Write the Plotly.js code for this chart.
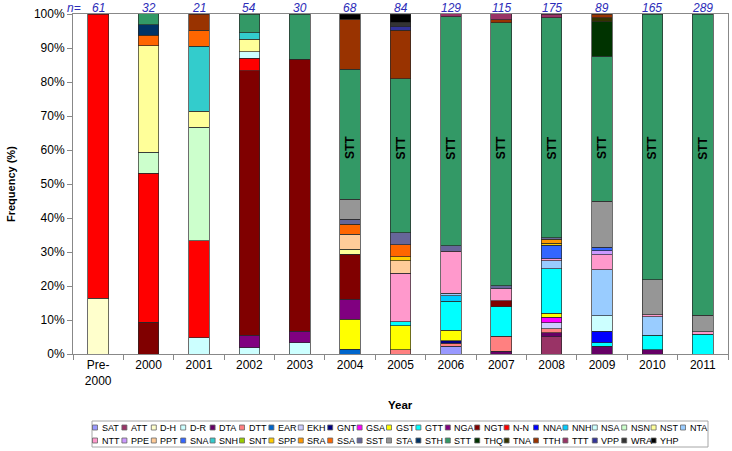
<!DOCTYPE html>
<html><head><meta charset="utf-8">
<script src="https://cdn.plot.ly/plotly-3.0.1.min.js"></script>
<style>html,body{margin:0;padding:0;background:#fff;}#chart{width:732px;height:451px;}</style>
</head><body><div id="chart"></div>
<script>
// ---- Data (percent of isolates per year) ----
const categories = ["Pre-<br>2000","2000","2001","2002","2003","2004","2005","2006","2007","2008","2009","2010","2011"];
const sampleSizes = [61,32,21,54,30,68,84,129,115,175,89,165,289];
const seriesNames = ["SAT","ATT","D-H","D-R","DTA","DTT","EAR","EKH","GNT","GSA","GST","GTT","NGA","NGT","N-N","NNA","NNH","NSA","NSN","NST","NTA",
                     "NTT","PPE","PPT","SNA","SNH","SNT","SPP","SRA","SSA","SST","STA","STH","STT","THQ","TNA","TTH","TTT","VPP","WRA","YHP"];
const seriesColors = ["#9999FF","#993366","#FFFFCC","#CCFFFF","#660066","#FF8080","#0066CC","#CCCCFF","#000080","#FF00FF","#FFFF00","#00FFFF","#800080","#800000","#FF0000","#0000FF","#00CCFF","#CCFFFF","#CCFFCC","#FFFF99","#99CCFF",
                      "#FF99CC","#CC99FF","#FFCC99","#3366FF","#33CCCC","#99CC00","#FFCC00","#FF9900","#FF6600","#666699","#969696","#003366","#339966","#003300","#333300","#993300","#993366","#333399","#333333","#000000"];

const SAT = [0,0,0,0,0,0,0,2.33,0,0,0,0,0];
const ATT = [0,0,0,0,0,0,0,0,0,5.14,0,0,0];
const DH  = [16.39,0,0,0,0,0,0,0,0,0,0,0,0];
const DR  = [0,0,4.76,1.85,3.33,0,0,0,0,0,0,0,0];
const DTA = [0,0,0,0,0,0,0,0,0.87,1.14,2.25,1.21,0];
const DTT = [0,0,0,0,0,0,1.19,0.78,4.35,1.14,0,0,0];
const EAR = [0,0,0,0,0,1.47,0,0,0,0,0,0,0];
const EKH = [0,0,0,0,0,0,0,0,0,1.71,0,0,0];
const GNT = [0,0,0,0,0,0,0,0.78,0,0,0,0,0];
const GSA = [0,0,0,0,0,0,0,0,0,1.71,0,0,0];
const GST = [0,0,0,0,0,8.82,7.14,3.10,0,1.14,0,0,0];
const GTT = [0,0,0,0,0,0,1.19,8.53,8.70,13.14,1.12,4.24,5.88];
const NGA = [0,0,0,3.70,3.33,5.88,0,0,0,0,0,0,0];
const NGT = [0,9.38,0,77.78,80.00,13.24,0,0,1.74,0,0,0,0];
const NN  = [83.61,43.75,28.57,3.70,0,0,0,0,0,0,0,0,0];
const NNA = [0,0,0,0,0,0,0,0,0,0,3.37,0,0];
const NNH = [0,0,0,0,0,0,0,1.55,0,0,0,0,0];
const NSA = [0,0,0,1.85,0,0,0,0,0,0,4.49,0,0];
const NSN = [0,6.25,33.33,0,0,0,0,0,0,0,0,0,0];
const NST = [0,31.25,4.76,3.70,0,1.47,0,0,0,0,0,0,0];
const NTA = [0,0,0,0,0,0,0,0.78,0,2.29,13.48,5.45,0];
const NTT = [0,0,0,0,0,0,14.29,12.40,3.48,0.57,4.49,0.61,0.69];
const PPE = [0,0,0,0,0,0,0,0,0,0,1.12,0,0];
const PPT = [0,0,0,0,0,4.41,3.57,0,0,0,0,0,0];
const SNA = [0,0,0,0,0,0,0,0,0,4.00,1.12,0,0];
const SNH = [0,0,19.05,1.85,0,0,0,0,0,0,0,0,0];
const SNT = [0,0,0,0,0,0,0,0,0,0,0,0,0];
const SPP = [0,0,0,0,0,0,1.19,0,0,0.57,0,0,0];
const SRA = [0,0,0,0,0,0,0,0,0,1.14,0,0,0];
const SSA = [0,3.13,4.76,0,0,2.94,3.57,0,0,0,0,0,0];
const SST = [0,0,0,0,0,1.47,3.57,1.55,0.87,0.57,0,0,0];
const STA = [0,0,0,0,0,5.88,0,0,0,0,13.48,10.30,4.84];
const STH = [0,3.13,0,0,0,0,0,0,0,0,0,0,0];
const STT = [0,3.13,0,5.56,13.33,38.24,45.24,67.44,77.39,64.57,42.70,78.18,88.58];
const THQ = [0,0,0,0,0,0,0,0,0,0,10.11,0,0];
const TNA = [0,0,0,0,0,0,0,0,0,0,1.12,0,0];
const TTH = [0,0,4.76,0,0,14.71,14.29,0,0.87,0,1.12,0,0];
const TTT = [0,0,0,0,0,0,0,0.78,1.74,1.14,0,0,0];
const VPP = [0,0,0,0,0,0,1.19,0,0,0,0,0,0];
const WRA = [0,0,0,0,0,0,1.19,0,0,0,0,0,0];
const YHP = [0,0,0,0,0,1.47,2.38,0,0,0,0,0,0];

const seriesValues = [SAT,ATT,DH,DR,DTA,DTT,EAR,EKH,GNT,GSA,GST,GTT,NGA,NGT,NN,NNA,NNH,NSA,NSN,NST,NTA,
                      NTT,PPE,PPT,SNA,SNH,SNT,SPP,SRA,SSA,SST,STA,STH,STT,THQ,TNA,TTH,TTT,VPP,WRA,YHP];
const sttLabelCats = ["2004","2005","2006","2007","2008","2009","2010","2011"];

// ---- Layout geometry ----
const W = 732, H = 451, ML = 73, MR = 4, MT = 14, MB = 97;
const PW = W - ML - MR, PH = H - MT - MB;
const px2x = p => (p - ML) / PW;
const py2y = p => (H - MB - p) / PH;
const FONT = "Liberation Sans, Arial, sans-serif";

const traces = seriesNames.map((name, i) => ({
  type: "bar",
  name: name,
  x: categories,
  y: seriesValues[i].map(v => v > 0 ? v : null),
  marker: { color: seriesColors[i], line: { color: "rgba(40,40,40,0.85)", width: 0.8 } },
  showlegend: false,
  hovertemplate: name + ": %{y:.1f}%<extra></extra>"
}));

const annotations = [];
const shapes = [];

// n= labels (category index positions)
annotations.push({ xref: "paper", yref: "paper", x: px2x(74), y: py2y(7.5), text: "<i>n=</i>", showarrow: false,
  xanchor: "center", yanchor: "middle", font: { family: FONT, size: 12, color: "#2B2BB8" } });
categories.forEach((c, i) => {
  annotations.push({ xref: "x", yref: "paper", x: i, y: py2y(7.5), text: "<i>" + sampleSizes[i] + "</i>", showarrow: false,
    xanchor: "center", yanchor: "middle", font: { family: FONT, size: 12, color: "#2B2BB8" } });
});
// STT labels
sttLabelCats.forEach(c => {
  const idx = categories.indexOf(c);
  annotations.push({ xref: "x", yref: "y", x: idx, y: 60.6, text: "<b>STT</b>", textangle: -90, showarrow: false,
    xanchor: "center", yanchor: "middle", font: { family: FONT, size: 12, color: "#000" } });
});
// axis titles
annotations.push({ xref: "paper", yref: "paper", x: px2x(400), y: py2y(405), text: "<b>Year</b>", showarrow: false,
  xanchor: "center", yanchor: "middle", font: { family: FONT, size: 11.5, color: "#000" } });
annotations.push({ xref: "paper", yref: "paper", x: px2x(11), y: py2y(184), text: "<b>Frequency (%)</b>", textangle: -90, showarrow: false,
  xanchor: "center", yanchor: "middle", font: { family: FONT, size: 11, color: "#000" } });

// manual legend
shapes.push({ type: "rect", xref: "paper", yref: "paper", x0: px2x(92), x1: px2x(708), y0: py2y(447), y1: py2y(421),
  line: { color: "#A6A6A6", width: 1 }, fillcolor: "rgba(0,0,0,0)" });
seriesNames.forEach((name, i) => {
  const row = i < 21 ? 0 : 1;
  const col = row === 0 ? i : i - 21;
  const cx = 95 + col * 29.4;
  const cy = row === 0 ? 427.5 : 440.5;
  shapes.push({ type: "rect", xref: "paper", yref: "paper", x0: px2x(cx - 2.5), x1: px2x(cx + 2.5), y0: py2y(cy + 2.5), y1: py2y(cy - 2.5),
    line: { color: "#666", width: 0.8 }, fillcolor: seriesColors[i] });
  annotations.push({ xref: "paper", yref: "paper", x: px2x(cx + 4.5), y: py2y(cy), text: name, showarrow: false,
    xanchor: "left", yanchor: "middle", font: { family: FONT, size: 9, color: "#000" } });
});

const layout = {
  width: W, height: H,
  margin: { l: ML, r: MR, t: MT, b: MB, pad: 0 },
  paper_bgcolor: "#fff", plot_bgcolor: "#fff",
  barmode: "stack", bargap: 0.59,
  font: { family: FONT, size: 12, color: "#000" },
  showlegend: false,
  xaxis: {
    type: "category", range: [-0.5, categories.length - 0.5], autorange: false,
    tickson: "boundaries", ticks: "outside", ticklen: 5, tickcolor: "#888",
    showline: true, linecolor: "#888", linewidth: 1, mirror: true, showgrid: false, automargin: false,
    tickfont: { family: FONT, size: 12, color: "#000" }
  },
  yaxis: {
    range: [0, 100], autorange: false, dtick: 10, ticksuffix: "%", ticks: "outside", ticklen: 5, tickcolor: "#888",
    showline: true, linecolor: "#888", linewidth: 1, mirror: true, showgrid: false, zeroline: false, automargin: false,
    tickfont: { family: FONT, size: 12, color: "#000" }
  },
  annotations: annotations,
  shapes: shapes
};

Plotly.newPlot("chart", traces, layout, { displayModeBar: false, staticPlot: true });
</script>
</body></html>
